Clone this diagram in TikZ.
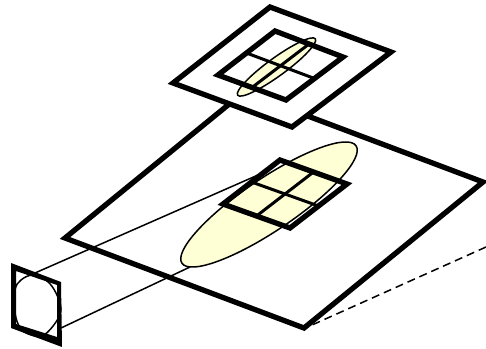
\documentclass[tikz,border=0pt]{standalone}
\definecolor{paleyellow}{RGB}{255,255,214}
\tikzset{
  plate/.style={draw=black,line width=5.3pt,fill=white,line join=miter},
  frame/.style={draw=black,line width=5.3pt,line join=miter},
  cross/.style={draw=black,line width=3pt},
  spot/.style={draw=black,line width=1.5pt,fill=paleyellow},
  ray/.style={draw=black,line width=1.5pt},
  ray dash/.style={draw=black,line width=1.5pt,dash pattern=on 8pt off 5pt}
}
\begin{document}
\begin{tikzpicture}[x=1pt,y=-1pt]
\useasboundingbox[fill=white] (0,0) rectangle (486,348);
% large plane
\draw[plate] (244,92) -- (483,182) -- (304,328) -- (65,238) -- cycle;
\draw[ray dash] (486,247) -- (312,325);
% rays from aperture
\draw[ray] (35,273) -- (258,175);
\draw[ray] (61,328) -- (190,267);
% large spot and grid
\draw[spot] (269,204.5) ellipse[x radius=105,y radius=26,rotate=34];
\draw[cross] (251.5,182) -- (318.5,206);
\draw[cross] (313.5,172) -- (256.5,216);
\draw[frame] (280,160) -- (347,184) -- (290,228) -- (223,204) -- cycle;
% small plane
\draw[plate] (270,7) -- (391,52) -- (292,127) -- (173,83) -- cycle;
\draw[spot] (276.5,67) ellipse[x radius=48,y radius=9,rotate=36];
\draw[cross] (246.5,53) -- (314.5,78.5);
\draw[cross] (309,44) -- (252,87.5);
\draw[frame] (275,31) -- (343,57) -- (286,100) -- (218,75) -- cycle;
% aperture
\draw[line width=1.5pt,fill=white] plot[smooth cycle,tension=0.6] coordinates
  {(33,275) (47,281) (56,293) (61,309) (56,322) (44,335) (33,335.5) (21,329) (15,313) (15,290) (21,280)};
\fill[black,even odd rule] (11,263) -- (61,282) -- (62,347) -- (11,328) -- cycle
  (16,271) -- (57,285) -- (57,337) -- (16,324) -- cycle;
\end{tikzpicture}
\end{document}
